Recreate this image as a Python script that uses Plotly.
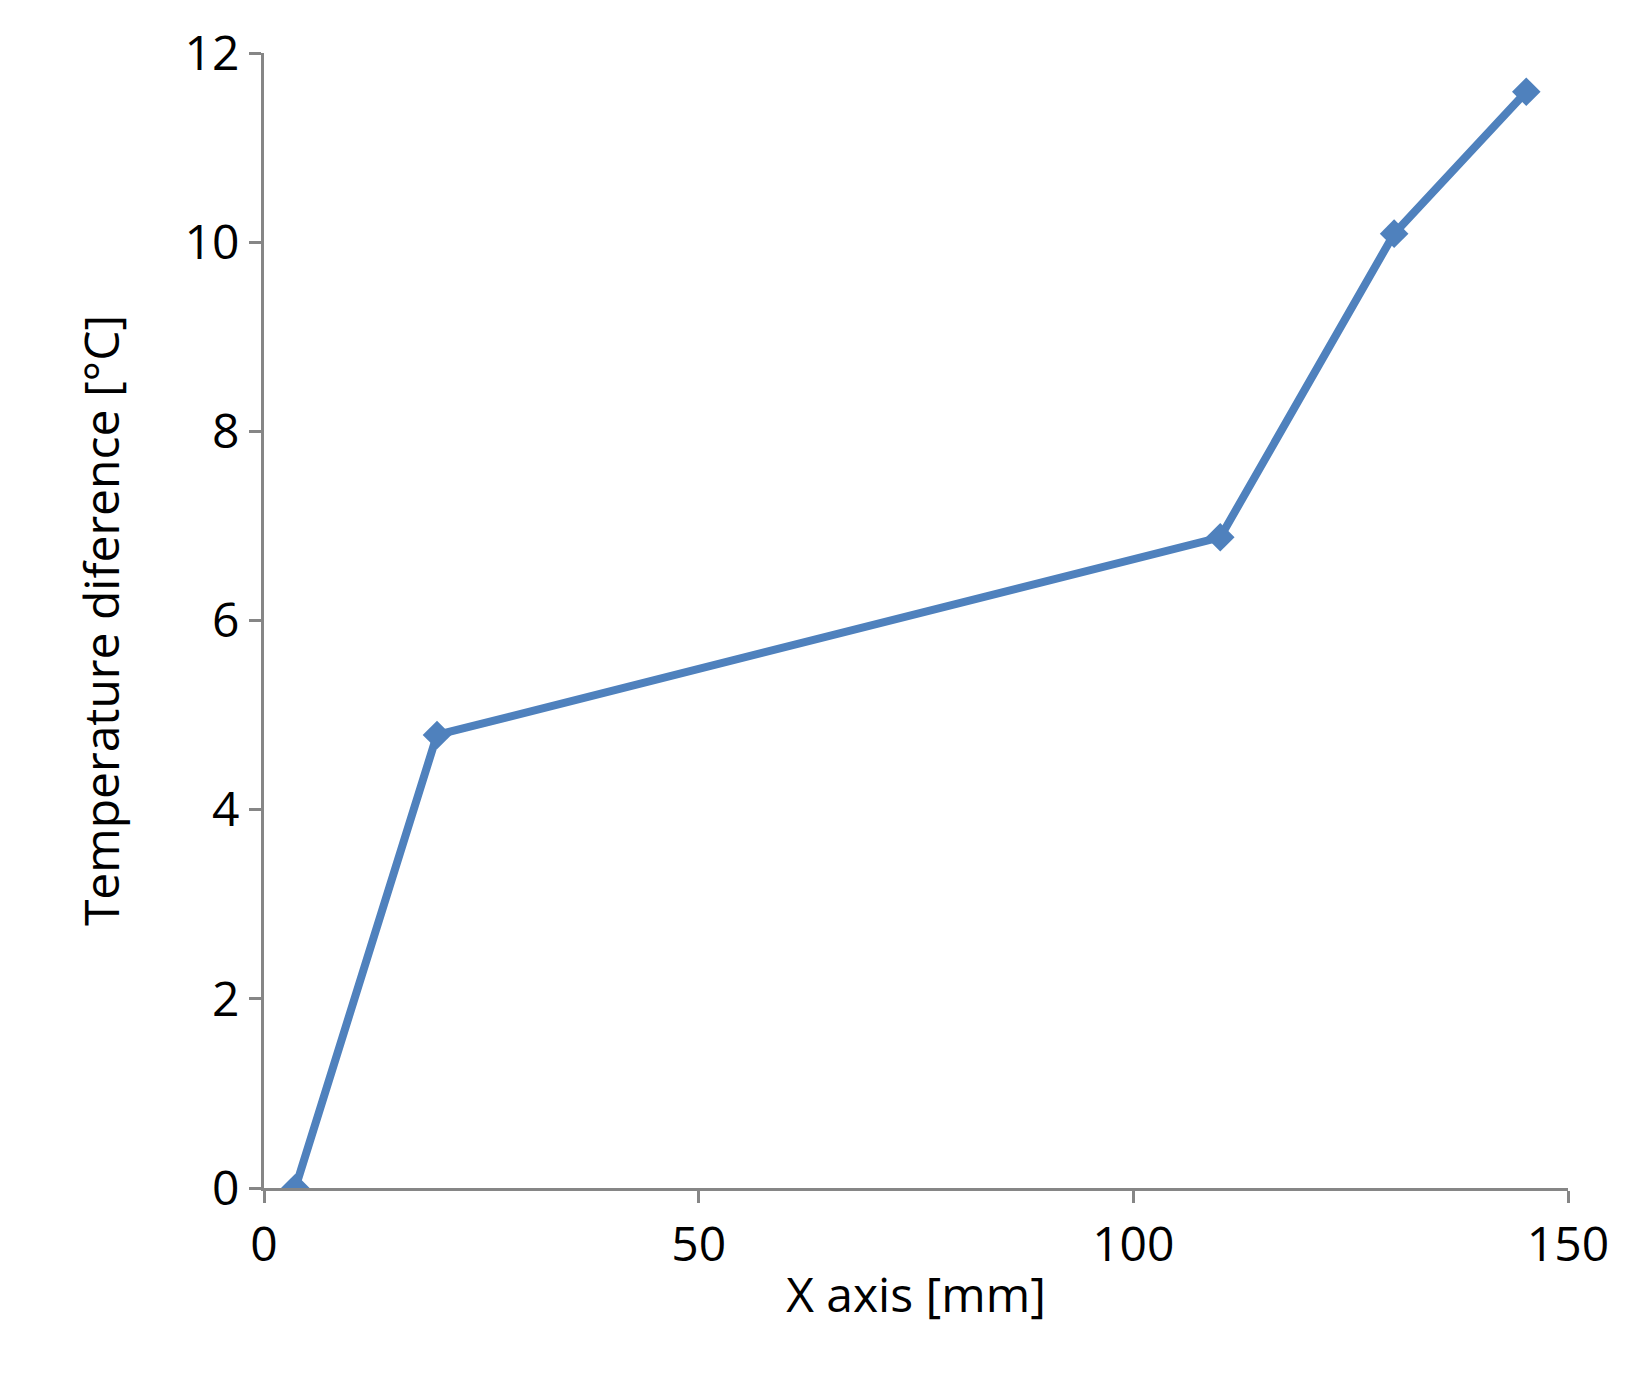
import plotly.graph_objects as go

x_mm = [3.6, 19.9, 110, 130, 145.2]
temp_diff = [0.0, 4.79, 6.88, 10.09, 11.59]

fig = go.Figure()
fig.add_scatter(
    x=x_mm, y=temp_diff, mode="lines+markers",
    line=dict(color="#4F81BD", width=8),
    marker=dict(symbol="diamond", size=22, color="#4F81BD"),
)

axis_style = dict(
    showgrid=False, zeroline=False, showline=True, linecolor="#868686", linewidth=3,
    ticks="outside", tickcolor="#868686", tickwidth=3, ticklen=12,
    tickfont=dict(size=48, color="black"),
)
fig.update_xaxes(range=[0, 150], dtick=50, title=dict(text="X axis [mm]", font=dict(size=48), standoff=5), **axis_style)
fig.update_yaxes(range=[0, 12], dtick=2, title=dict(text="Temperature diference [°C]", font=dict(size=48), standoff=50), **axis_style)

fig.update_layout(
    width=1626, height=1381,
    margin=dict(l=256, r=66, t=45, b=201),
    plot_bgcolor="white", paper_bgcolor="white",
    font=dict(family="Open Sans", color="black"),
    showlegend=False,
)
fig.write_html("out.html")
